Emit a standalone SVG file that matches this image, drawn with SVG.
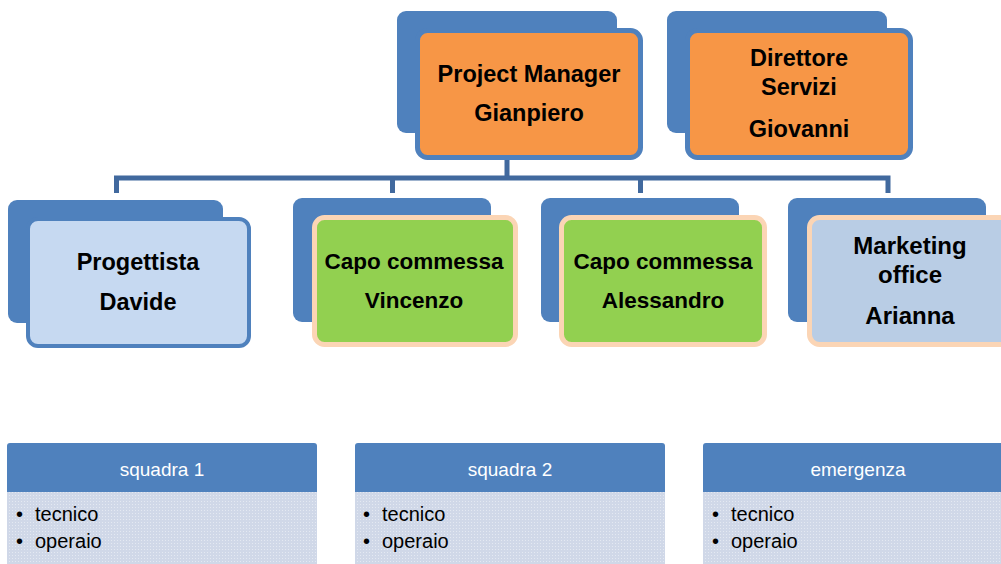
<svg xmlns="http://www.w3.org/2000/svg" width="1001" height="564" viewBox="0 0 1001 564">
<defs>
<pattern id="dots" width="3" height="3" patternUnits="userSpaceOnUse">
<rect width="3" height="3" fill="#D0D8E8"/>
<rect width="1" height="1" fill="#E4E9F2"/>
</pattern>
<style>
.back{fill:#4F81BD}
.orange{fill:#F79646;stroke:#4F81BD;stroke-width:5}
.lblue{fill:#C6D9F1;stroke:#4F81BD;stroke-width:4}
.green{fill:#92D050;stroke:#FBD5B5;stroke-width:5}
.mblue{fill:#B9CDE5;stroke:#FBD5B5;stroke-width:5}
.t{font-family:"Liberation Sans",Arial,sans-serif;font-weight:bold;fill:#000;text-anchor:middle}
.conn{fill:none;stroke:#41699E;stroke-width:5}
.hdr{fill:#4F81BD}
.body{fill:url(#dots)}
.ht{font-family:"Liberation Sans",Arial,sans-serif;font-size:19px;fill:#FFFFFF;text-anchor:middle}
.bt{font-family:"Liberation Sans",Arial,sans-serif;font-size:20px;fill:#000}
</style>
</defs>
<rect width="1001" height="564" fill="#FFFFFF"/>
<g id="connectors">
<path class="conn" d="M507,160 V178"/>
<path class="conn" d="M116.5,193 V178 H888 V193"/>
<path class="conn" d="M392.5,178 V193"/>
<path class="conn" d="M640.5,178 V193"/>
</g>
<g id="node-pm">
<rect class="back" x="397" y="11" width="220" height="122" rx="9"/>
<rect class="orange" x="417.5" y="30.5" width="223" height="127" rx="10"/>
<text class="t" x="529" y="82" font-size="23.5">Project Manager</text>
<text class="t" x="529" y="121" font-size="23.5">Gianpiero</text>
</g>
<g id="node-ds">
<rect class="back" x="667" y="11" width="220" height="122" rx="9"/>
<rect class="orange" x="687.5" y="30.5" width="223" height="127" rx="10"/>
<text class="t" x="799" y="66" font-size="23.5">Direttore</text>
<text class="t" x="799" y="95" font-size="23.5">Servizi</text>
<text class="t" x="799" y="137" font-size="23.5">Giovanni</text>
</g>
<g id="node-progettista">
<rect class="back" x="8" y="200" width="215" height="123" rx="9"/>
<rect class="lblue" x="28" y="219" width="221" height="127" rx="10"/>
<text class="t" x="138" y="270" font-size="23.5">Progettista</text>
<text class="t" x="138" y="310" font-size="23.5">Davide</text>
</g>
<g id="node-vincenzo">
<rect class="back" x="293" y="198" width="198" height="124" rx="9"/>
<rect class="green" x="314.5" y="217.5" width="201" height="127" rx="10"/>
<text class="t" x="414" y="269" font-size="22.5">Capo commessa</text>
<text class="t" x="414" y="308" font-size="22.5">Vincenzo</text>
</g>
<g id="node-alessandro">
<rect class="back" x="541" y="198" width="198" height="124" rx="9"/>
<rect class="green" x="561.5" y="217.5" width="203" height="127" rx="10"/>
<text class="t" x="663" y="269" font-size="22.5">Capo commessa</text>
<text class="t" x="663" y="308" font-size="22.5">Alessandro</text>
</g>
<g id="node-marketing">
<rect class="back" x="788" y="198" width="198" height="124" rx="9"/>
<rect class="mblue" x="809.5" y="217.5" width="203" height="127" rx="10"/>
<text class="t" x="910" y="254" font-size="24">Marketing</text>
<text class="t" x="910" y="283" font-size="24">office</text>
<text class="t" x="910" y="324" font-size="24">Arianna</text>
</g>
<g id="node-squadra1">
<rect class="body" x="7" y="490" width="310" height="80"/>
<path class="hdr" d="M7,492 V446 Q7,443 10,443 H314 Q317,443 317,446 V492 Z"/>
<text class="ht" x="162" y="476">squadra 1</text>
<text class="bt" x="16" y="521">•</text>
<text class="bt" x="35" y="521">tecnico</text>
<text class="bt" x="16" y="548">•</text>
<text class="bt" x="35" y="548">operaio</text>
</g>
<g id="node-squadra2">
<rect class="body" x="355" y="490" width="310" height="80"/>
<path class="hdr" d="M355,492 V446 Q355,443 358,443 H662 Q665,443 665,446 V492 Z"/>
<text class="ht" x="510" y="476">squadra 2</text>
<text class="bt" x="363" y="521">•</text>
<text class="bt" x="382" y="521">tecnico</text>
<text class="bt" x="363" y="548">•</text>
<text class="bt" x="382" y="548">operaio</text>
</g>
<g id="node-emergenza">
<rect class="body" x="703" y="490" width="310" height="80"/>
<path class="hdr" d="M703,492 V446 Q703,443 706,443 H1010 Q1013,443 1013,446 V492 Z"/>
<text class="ht" x="858" y="476">emergenza</text>
<text class="bt" x="712" y="521">•</text>
<text class="bt" x="731" y="521">tecnico</text>
<text class="bt" x="712" y="548">•</text>
<text class="bt" x="731" y="548">operaio</text>
</g>
</svg>
